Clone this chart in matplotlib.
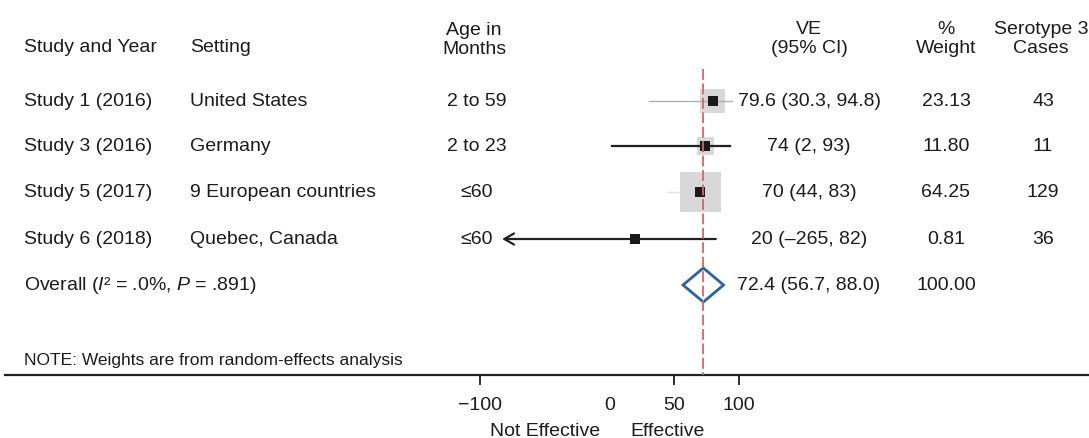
import matplotlib
matplotlib.use("Agg")
import matplotlib.pyplot as plt
import numpy as np
from matplotlib.patches import Polygon

plt.rcParams["font.family"] = ["Liberation Sans", "DejaVu Sans"]
plt.rcParams["mathtext.fontset"] = "custom"
plt.rcParams["mathtext.rm"] = "Liberation Sans"
plt.rcParams["mathtext.it"] = "Liberation Sans:italic"

# study data
studies = ["Study 1 (2016)", "Study 3 (2016)", "Study 5 (2017)", "Study 6 (2018)"]
settings = ["United States", "Germany", "9 European countries", "Quebec, Canada"]
ages = ["2 to 59", "2 to 23", "\u226460", "\u226460"]
ve = [79.6, 74, 70, 20]
ci_low = [30.3, 2, 44, -265]
ci_high = [94.8, 93, 83, 82]
weights = [23.13, 11.80, 64.25, 0.81]
cases = [43, 11, 129, 36]
ve_labels = ["79.6 (30.3, 94.8)", "74 (2, 93)", "70 (44, 83)", "20 (\u2013265, 82)"]

overall_ve = 72.4
overall_low = 56.7
overall_high = 88.0
overall_label = "72.4 (56.7, 88.0)"
overall_weight = "100.00"

xticks = [-100, 0, 50, 100]
xtick_labels = ["\u2212100", "0", "50", "100"]

TXT = "#1c1c1c"
FS = 14
XMIN, XMAX = -470.7, 370.2
clip_left = -83  # plot region lower limit, arrow drawn beyond it

fig = plt.figure(figsize=(10.89, 4.39), dpi=100)
ax = fig.add_axes([0, 0, 1, 1])
ax.set_xlim(XMIN, XMAX)
ax.set_ylim(439, 0)

row_y = [102, 147, 193, 240]
overall_y = 286


def xpx(p):
    # pixel column -> data x
    return XMIN + p / 1089 * (XMAX - XMIN)


hdr = dict(fontsize=FS, color=TXT, va="center")

# column headers
ax.text(xpx(24), 48, "Study and Year", ha="left", **hdr)
ax.text(xpx(190), 48, "Setting", ha="left", **hdr)
ax.text(xpx(474), 40, "Age in\nMonths", ha="center", linespacing=1.15, **hdr)
ax.text(xpx(809), 39, "VE\n(95% CI)", ha="center", linespacing=1.15, **hdr)
ax.text(xpx(946), 39, "%\nWeight", ha="center", linespacing=1.15, **hdr)
ax.text(xpx(1041), 39, "Serotype 3\nCases", ha="center", linespacing=1.15, **hdr)

for i, y in enumerate(row_y):
    ax.text(xpx(24), y, studies[i], ha="left", **hdr)
    ax.text(xpx(190), y, settings[i], ha="left", **hdr)
    ax.text(xpx(477), y, ages[i], ha="center", **hdr)
    ax.text(xpx(809), y, ve_labels[i], ha="center", **hdr)
    ax.text(xpx(946), y, f"{weights[i]:.2f}", ha="center", **hdr)
    ax.text(xpx(1043), y, str(cases[i]), ha="center", **hdr)

ax.text(xpx(24), overall_y, "Overall ($I$\u00b2 = .0%, $P$ = .891)", ha="left", **hdr)
ax.text(xpx(809), overall_y, overall_label, ha="center", **hdr)
ax.text(xpx(946), overall_y, overall_weight, ha="center", **hdr)

ax.text(xpx(24), 361, "NOTE: Weights are from random-effects analysis",
        ha="left", va="center", fontsize=12.5, color=TXT)

# weight boxes, side ~ sqrt(weight)
sides = 5.1 * np.sqrt(np.array(weights)) * 0.72
ax.scatter(ve, row_y, s=sides ** 2, marker="s", color="#d8d8d8", zorder=2, linewidths=0)

# CI lines
for i, y in enumerate(row_y):
    lo = ci_low[i]
    if lo < clip_left:
        ax.annotate("", xy=(clip_left, y), xytext=(ci_high[i], y),
                    arrowprops=dict(arrowstyle="->,head_length=0.7,head_width=0.4",
                                    color="#222222", lw=1.6, shrinkA=0, shrinkB=0),
                    zorder=3)
    else:
        col = "#b0b0b0" if i == 0 else "#222222"
        lw = 1.0 if i == 0 else 1.6
        if i == 2:
            col, lw = "#e4e4e4", 1.0
        ax.plot([lo, ci_high[i]], [y, y], color=col, lw=lw, zorder=1.5 if i == 2 else 3)

ax.scatter(ve, row_y, s=60, marker="s", color="#1a1a1a", zorder=4, linewidths=0)

# overall diamond
diamond = Polygon([(overall_low, overall_y), (overall_ve, overall_y - 17),
                   (overall_high, overall_y), (overall_ve, overall_y + 17)],
                  closed=True, facecolor="white", edgecolor="#2a62a3", lw=2, zorder=3)
ax.add_patch(diamond)

# reference line at overall estimate
ax.plot([overall_ve, overall_ve], [70, 376], color="#e06060", lw=1.3,
        linestyle=(0, (6, 2)), zorder=5)

# bottom axis
for s in ["top", "left", "right"]:
    ax.spines[s].set_visible(False)
ax.spines["bottom"].set_position(("data", 376))
ax.spines["bottom"].set_bounds(xpx(5), XMAX)
ax.spines["bottom"].set_linewidth(1.6)
ax.spines["bottom"].set_color("#222222")
ax.set_yticks([])
ax.set_xticks(xticks)
ax.set_xticklabels(xtick_labels)
ax.tick_params(axis="x", direction="out", length=7, width=1.3, pad=8,
               labelsize=FS, colors=TXT)
ax.xaxis.get_major_ticks()[1].tick1line.set_visible(False)

ax.text(xpx(545), 432, "Not Effective", ha="center", **hdr)
ax.text(xpx(668), 432, "Effective", ha="center", **hdr)

fig.savefig("out.png", dpi=100)
